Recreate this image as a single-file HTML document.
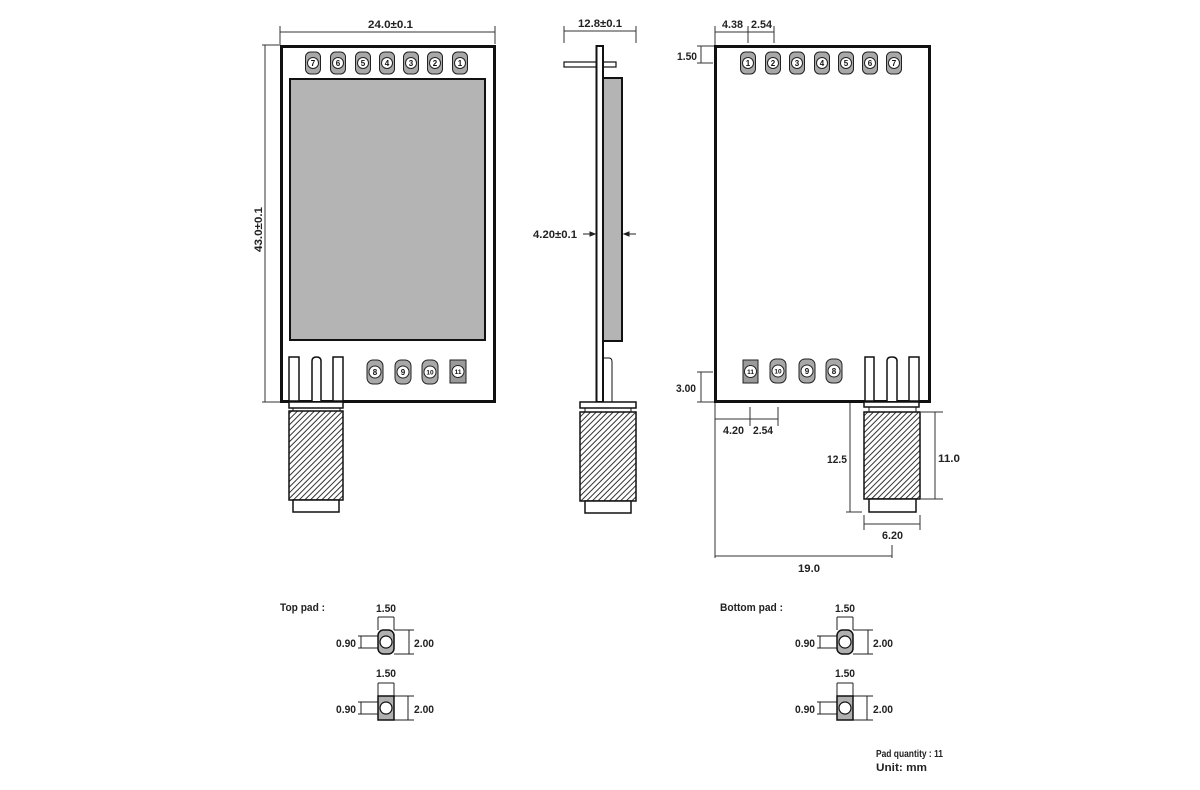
<!DOCTYPE html>
<html><head><meta charset="utf-8">
<style>
html,body{margin:0;padding:0;background:#fff}
svg{display:block}
text{font-family:"Liberation Sans",sans-serif;font-weight:bold;font-size:11px;fill:#222}
text.p{font-size:8px;text-anchor:middle;fill:#111}
text.s{font-size:6.5px;text-anchor:middle;fill:#111}
</style></head><body>
<svg width="1200" height="790" viewBox="0 0 1200 790" xmlns="http://www.w3.org/2000/svg">
<defs>
<pattern id="h" patternUnits="userSpaceOnUse" width="4" height="4" patternTransform="rotate(45)">
<line x1="1" y1="-1" x2="1" y2="6" stroke="#333" stroke-width="1"/>
</pattern>
</defs>

<!-- ============ LEFT VIEW ============ -->
<g stroke="#333" stroke-width="1" fill="none">
<line x1="280" y1="32" x2="495" y2="32"/>
<line x1="280" y1="26" x2="280" y2="44"/>
<line x1="495" y1="26" x2="495" y2="44"/>
<line x1="265" y1="45" x2="265" y2="402"/>
<line x1="262" y1="45" x2="281" y2="45"/>
<line x1="262" y1="402" x2="283" y2="402"/>
</g>
<text x="368" y="28" textLength="45" lengthAdjust="spacingAndGlyphs">24.0±0.1</text>
<text transform="translate(262,252) rotate(-90)" x="0" y="0" textLength="45" lengthAdjust="spacingAndGlyphs">43.0±0.1</text>

<rect x="281.5" y="46.5" width="213" height="355" fill="#fff" stroke="#111" stroke-width="3"/>
<rect x="290" y="79" width="195" height="261" fill="#b4b4b4" stroke="#111" stroke-width="2"/>

<g stroke="#222" stroke-width="1">
<rect x="305.5" y="52" width="15" height="22" rx="5" fill="#a8a8a8"/><circle cx="313" cy="63" r="5.5" fill="#fff"/>
<rect x="330.5" y="52" width="15" height="22" rx="5" fill="#a8a8a8"/><circle cx="338" cy="63" r="5.5" fill="#fff"/>
<rect x="355.5" y="52" width="15" height="22" rx="5" fill="#a8a8a8"/><circle cx="363" cy="63" r="5.5" fill="#fff"/>
<rect x="379.5" y="52" width="15" height="22" rx="5" fill="#a8a8a8"/><circle cx="387" cy="63" r="5.5" fill="#fff"/>
<rect x="403.5" y="52" width="15" height="22" rx="5" fill="#a8a8a8"/><circle cx="411" cy="63" r="5.5" fill="#fff"/>
<rect x="427.5" y="52" width="15" height="22" rx="5" fill="#a8a8a8"/><circle cx="435" cy="63" r="5.5" fill="#fff"/>
<rect x="452.5" y="52" width="15" height="22" rx="5" fill="#a8a8a8"/><circle cx="460" cy="63" r="5.5" fill="#fff"/>
</g>
<text class="p" x="313" y="66">7</text>
<text class="p" x="338" y="66">6</text>
<text class="p" x="363" y="66">5</text>
<text class="p" x="387" y="66">4</text>
<text class="p" x="411" y="66">3</text>
<text class="p" x="435" y="66">2</text>
<text class="p" x="460" y="66">1</text>

<g stroke="#222" stroke-width="1">
<rect x="367" y="360" width="16" height="24" rx="6" fill="#a8a8a8"/><circle cx="375" cy="372" r="6" fill="#fff"/>
<rect x="395" y="360" width="16" height="24" rx="6" fill="#a8a8a8"/><circle cx="403" cy="372" r="6" fill="#fff"/>
<rect x="422" y="360" width="16" height="24" rx="6" fill="#a8a8a8"/><circle cx="430" cy="372" r="6" fill="#fff"/>
<rect x="450" y="360" width="16" height="23" fill="#9a9a9a"/><circle cx="458" cy="371.5" r="6" fill="#fff"/>
</g>
<text class="p" x="375" y="375">8</text>
<text class="p" x="403" y="375">9</text>
<text class="s" x="430" y="374.5">10</text>
<text class="s" x="458" y="374">11</text>

<g fill="#fff" stroke="#111" stroke-width="1.5">
<rect x="289" y="357" width="10" height="44"/>
<path d="M312,401 V361 Q312,357 316.5,357 Q321,357 321,361 V401"/>
<rect x="333" y="357" width="10" height="44"/>
<rect x="289" y="402" width="54" height="6"/>
</g>
<g stroke="#111" stroke-width="1">
<line x1="293" y1="408" x2="293" y2="411"/>
<line x1="340" y1="408" x2="340" y2="411"/>
</g>
<rect x="289" y="411" width="54" height="89" fill="url(#h)" stroke="#111" stroke-width="1.5"/>
<rect x="293" y="500" width="46" height="12" fill="#fff" stroke="#111" stroke-width="1.5"/>

<!-- ============ SIDE VIEW ============ -->
<g stroke="#333" stroke-width="1" fill="none">
<line x1="564" y1="31" x2="636" y2="31"/>
<line x1="564" y1="26" x2="564" y2="43"/>
<line x1="636" y1="26" x2="636" y2="43"/>
</g>
<text x="578" y="27" textLength="44" lengthAdjust="spacingAndGlyphs">12.8±0.1</text>

<rect x="564" y="62" width="52" height="5" fill="#fff" stroke="#111" stroke-width="1.2"/>
<rect x="603" y="78" width="19" height="263" fill="#b4b4b4" stroke="#111" stroke-width="2"/>
<path d="M603,402 V358 H609 Q612,358 612,362 V402" fill="#fff" stroke="#111" stroke-width="1"/>
<rect x="596.5" y="46" width="6.5" height="356" fill="#fff" stroke="#111" stroke-width="2"/>

<g fill="#fff" stroke="#111" stroke-width="1.5">
<rect x="580" y="402" width="56" height="6"/>
</g>
<g stroke="#111" stroke-width="1">
<line x1="585" y1="408" x2="585" y2="412"/>
<line x1="631" y1="408" x2="631" y2="412"/>
</g>
<rect x="580" y="412" width="56" height="89" fill="url(#h)" stroke="#111" stroke-width="1.5"/>
<rect x="585" y="501" width="46" height="12" fill="#fff" stroke="#111" stroke-width="1.5"/>

<text x="533" y="238" textLength="44" lengthAdjust="spacingAndGlyphs">4.20±0.1</text>
<g stroke="#222" stroke-width="1" fill="#222">
<line x1="583" y1="234" x2="593" y2="234"/>
<path d="M595,234 L590,232 L590,236 Z"/>
<line x1="636" y1="234" x2="626" y2="234"/>
<path d="M624,234 L629,232 L629,236 Z"/>
</g>

<!-- ============ RIGHT VIEW ============ -->
<g stroke="#333" stroke-width="1" fill="none">
<line x1="715" y1="32" x2="774" y2="32"/>
<line x1="715" y1="26" x2="715" y2="46"/>
<line x1="748" y1="26" x2="748" y2="43"/>
<line x1="774" y1="26" x2="774" y2="43"/>
<line x1="701" y1="46" x2="701" y2="63"/>
<line x1="697" y1="46" x2="715" y2="46"/>
<line x1="697" y1="63" x2="713" y2="63"/>
<line x1="701" y1="372" x2="701" y2="402"/>
<line x1="697" y1="372" x2="713" y2="372"/>
<line x1="697" y1="402" x2="715" y2="402"/>
<line x1="715" y1="402" x2="715" y2="558"/>
<line x1="715" y1="419" x2="778" y2="419"/>
<line x1="750" y1="407" x2="750" y2="426"/>
<line x1="778" y1="407" x2="778" y2="426"/>
<line x1="715" y1="556" x2="892" y2="556"/>
<line x1="892" y1="545" x2="892" y2="558"/>
<line x1="850" y1="402" x2="850" y2="512"/>
<line x1="846" y1="512" x2="862" y2="512"/>
<line x1="935" y1="412" x2="935" y2="499"/>
<line x1="921" y1="412" x2="943" y2="412"/>
<line x1="921" y1="499" x2="943" y2="499"/>
<line x1="864" y1="524" x2="920" y2="524"/>
<line x1="864" y1="515" x2="864" y2="530"/>
<line x1="920" y1="515" x2="920" y2="530"/>
</g>
<text x="722" y="28" textLength="21" lengthAdjust="spacingAndGlyphs">4.38</text>
<text x="751" y="28" textLength="21" lengthAdjust="spacingAndGlyphs">2.54</text>
<text x="677" y="60" textLength="20" lengthAdjust="spacingAndGlyphs">1.50</text>
<text x="676" y="392" textLength="20" lengthAdjust="spacingAndGlyphs">3.00</text>
<text x="723" y="434" textLength="21" lengthAdjust="spacingAndGlyphs">4.20</text>
<text x="753" y="434" textLength="20" lengthAdjust="spacingAndGlyphs">2.54</text>
<text x="827" y="463" textLength="20" lengthAdjust="spacingAndGlyphs">12.5</text>
<text x="938" y="462" textLength="22" lengthAdjust="spacingAndGlyphs">11.0</text>
<text x="882" y="539" textLength="21" lengthAdjust="spacingAndGlyphs">6.20</text>
<text x="798" y="572" textLength="22" lengthAdjust="spacingAndGlyphs">19.0</text>

<rect x="715.5" y="46.5" width="214" height="355" fill="#fff" stroke="#111" stroke-width="3"/>

<g stroke="#222" stroke-width="1">
<rect x="740.5" y="52" width="15" height="22" rx="5" fill="#a8a8a8"/><circle cx="748" cy="63" r="5.5" fill="#fff"/>
<rect x="765.5" y="52" width="15" height="22" rx="5" fill="#a8a8a8"/><circle cx="773" cy="63" r="5.5" fill="#fff"/>
<rect x="789.5" y="52" width="15" height="22" rx="5" fill="#a8a8a8"/><circle cx="797" cy="63" r="5.5" fill="#fff"/>
<rect x="814.5" y="52" width="15" height="22" rx="5" fill="#a8a8a8"/><circle cx="822" cy="63" r="5.5" fill="#fff"/>
<rect x="838.5" y="52" width="15" height="22" rx="5" fill="#a8a8a8"/><circle cx="846" cy="63" r="5.5" fill="#fff"/>
<rect x="862.5" y="52" width="15" height="22" rx="5" fill="#a8a8a8"/><circle cx="870" cy="63" r="5.5" fill="#fff"/>
<rect x="886.5" y="52" width="15" height="22" rx="5" fill="#a8a8a8"/><circle cx="894" cy="63" r="5.5" fill="#fff"/>
</g>
<text class="p" x="748" y="66">1</text>
<text class="p" x="773" y="66">2</text>
<text class="p" x="797" y="66">3</text>
<text class="p" x="822" y="66">4</text>
<text class="p" x="846" y="66">5</text>
<text class="p" x="870" y="66">6</text>
<text class="p" x="894" y="66">7</text>

<g stroke="#222" stroke-width="1">
<rect x="743" y="360" width="15" height="23" fill="#9a9a9a"/><circle cx="750.5" cy="371.5" r="6" fill="#fff"/>
<rect x="770" y="359" width="16" height="24" rx="6" fill="#a8a8a8"/><circle cx="778" cy="371" r="6" fill="#fff"/>
<rect x="799" y="359" width="16" height="24" rx="6" fill="#a8a8a8"/><circle cx="807" cy="371" r="6" fill="#fff"/>
<rect x="826" y="359" width="16" height="24" rx="6" fill="#a8a8a8"/><circle cx="834" cy="371" r="6" fill="#fff"/>
</g>
<text class="s" x="750.5" y="374">11</text>
<text class="s" x="778" y="373.5">10</text>
<text class="p" x="807" y="374">9</text>
<text class="p" x="834" y="374">8</text>

<g fill="#fff" stroke="#111" stroke-width="1.5">
<rect x="865" y="357" width="9" height="44"/>
<path d="M887,401 V361 Q887,357 892,357 Q897,357 897,361 V401"/>
<rect x="909" y="357" width="10" height="44"/>
<rect x="864" y="402" width="55" height="5"/>
</g>
<g stroke="#111" stroke-width="1">
<line x1="869" y1="407" x2="869" y2="412"/>
<line x1="916" y1="407" x2="916" y2="412"/>
</g>
<rect x="864" y="412" width="56" height="87" fill="url(#h)" stroke="#111" stroke-width="1.5"/>
<rect x="869" y="499" width="47" height="13" fill="#fff" stroke="#111" stroke-width="1.5"/>

<!-- ============ PADS LEFT ============ -->
<text x="280" y="611" textLength="45" lengthAdjust="spacingAndGlyphs">Top pad :</text>

<g stroke="#222" stroke-width="1" fill="none">
<line x1="378" y1="617" x2="394" y2="617"/>
<line x1="378" y1="617" x2="378" y2="630"/>
<line x1="394" y1="617" x2="394" y2="630"/>
<line x1="394" y1="630" x2="414" y2="630"/>
<line x1="394" y1="654" x2="414" y2="654"/>
<line x1="409" y1="630" x2="409" y2="654"/>
<line x1="358" y1="636" x2="386" y2="636"/>
<line x1="358" y1="648" x2="386" y2="648"/>
<line x1="361" y1="636" x2="361" y2="648"/>

<line x1="378" y1="683" x2="394" y2="683"/>
<line x1="378" y1="683" x2="378" y2="696"/>
<line x1="394" y1="683" x2="394" y2="696"/>
<line x1="394" y1="696" x2="414" y2="696"/>
<line x1="394" y1="720" x2="414" y2="720"/>
<line x1="408" y1="696" x2="408" y2="720"/>
<line x1="358" y1="702" x2="386" y2="702"/>
<line x1="358" y1="714" x2="386" y2="714"/>
<line x1="361" y1="702" x2="361" y2="714"/>
</g>
<rect x="378" y="630" width="16" height="24" rx="5.5" fill="#b0b0b0" stroke="#111" stroke-width="1.5"/>
<circle cx="386" cy="642" r="6" fill="#fff" stroke="#111" stroke-width="1.2"/>
<rect x="378" y="696" width="16" height="24" fill="#b0b0b0" stroke="#111" stroke-width="1.5"/>
<circle cx="386" cy="708" r="6" fill="#fff" stroke="#111" stroke-width="1.2"/>
<text x="376" y="612" textLength="20" lengthAdjust="spacingAndGlyphs">1.50</text>
<text x="336" y="647" textLength="20" lengthAdjust="spacingAndGlyphs">0.90</text>
<text x="414" y="647" textLength="20" lengthAdjust="spacingAndGlyphs">2.00</text>
<text x="376" y="677" textLength="20" lengthAdjust="spacingAndGlyphs">1.50</text>
<text x="336" y="713" textLength="20" lengthAdjust="spacingAndGlyphs">0.90</text>
<text x="414" y="713" textLength="20" lengthAdjust="spacingAndGlyphs">2.00</text>

<!-- ============ PADS RIGHT ============ -->
<text x="720" y="611" textLength="63" lengthAdjust="spacingAndGlyphs">Bottom pad :</text>
<g transform="translate(459,0)">
<g stroke="#222" stroke-width="1" fill="none">
<line x1="378" y1="617" x2="394" y2="617"/>
<line x1="378" y1="617" x2="378" y2="630"/>
<line x1="394" y1="617" x2="394" y2="630"/>
<line x1="394" y1="630" x2="414" y2="630"/>
<line x1="394" y1="654" x2="414" y2="654"/>
<line x1="409" y1="630" x2="409" y2="654"/>
<line x1="358" y1="636" x2="386" y2="636"/>
<line x1="358" y1="648" x2="386" y2="648"/>
<line x1="361" y1="636" x2="361" y2="648"/>

<line x1="378" y1="683" x2="394" y2="683"/>
<line x1="378" y1="683" x2="378" y2="696"/>
<line x1="394" y1="683" x2="394" y2="696"/>
<line x1="394" y1="696" x2="414" y2="696"/>
<line x1="394" y1="720" x2="414" y2="720"/>
<line x1="408" y1="696" x2="408" y2="720"/>
<line x1="358" y1="702" x2="386" y2="702"/>
<line x1="358" y1="714" x2="386" y2="714"/>
<line x1="361" y1="702" x2="361" y2="714"/>
</g>
<rect x="378" y="630" width="16" height="24" rx="5.5" fill="#b0b0b0" stroke="#111" stroke-width="1.5"/>
<circle cx="386" cy="642" r="6" fill="#fff" stroke="#111" stroke-width="1.2"/>
<rect x="378" y="696" width="16" height="24" fill="#b0b0b0" stroke="#111" stroke-width="1.5"/>
<circle cx="386" cy="708" r="6" fill="#fff" stroke="#111" stroke-width="1.2"/>
<text x="376" y="612" textLength="20" lengthAdjust="spacingAndGlyphs">1.50</text>
<text x="336" y="647" textLength="20" lengthAdjust="spacingAndGlyphs">0.90</text>
<text x="414" y="647" textLength="20" lengthAdjust="spacingAndGlyphs">2.00</text>
<text x="376" y="677" textLength="20" lengthAdjust="spacingAndGlyphs">1.50</text>
<text x="336" y="713" textLength="20" lengthAdjust="spacingAndGlyphs">0.90</text>
<text x="414" y="713" textLength="20" lengthAdjust="spacingAndGlyphs">2.00</text>
</g>

<text x="876" y="757" style="font-size:10px" textLength="67" lengthAdjust="spacingAndGlyphs">Pad quantity : 11</text>
<text x="876" y="771" textLength="51" lengthAdjust="spacingAndGlyphs">Unit:  mm</text>
</svg>
</body></html>
